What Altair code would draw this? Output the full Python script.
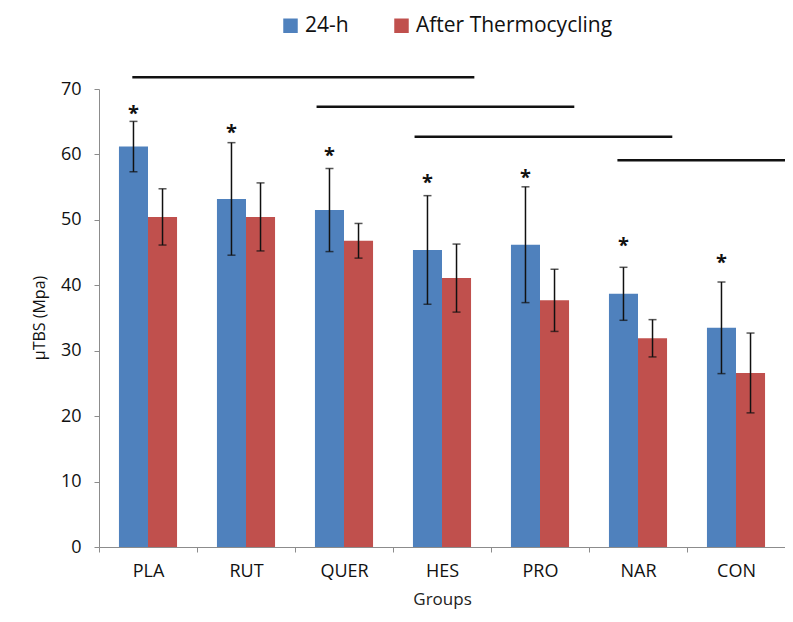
import altair as alt
import pandas as pd

groups = ["PLA", "RUT", "QUER", "HES", "PRO", "NAR", "CON"]
series = ["24-h", "After Thermocycling"]
mean_24h = [61.2, 53.2, 51.5, 45.4, 46.2, 38.7, 33.5]
sd_24h = [3.85, 8.6, 6.35, 8.3, 8.85, 4.05, 7.0]
mean_tc = [50.45, 50.45, 46.8, 41.1, 37.7, 31.9, 26.6]
sd_tc = [4.3, 5.2, 2.65, 5.2, 4.75, 2.85, 6.1]
star_y = [66.7, 63.7, 60.2, 56.1, 56.8, 46.4, 43.9]
sig_start = [0.34, 2.22, 3.22, 5.29]
sig_end = [3.83, 4.85, 5.85, 7.0]
sig_level = [71.8, 67.3, 62.7, 59.1]
y_title = ["µTBS (Mpa)"]

colors = ["#4F81BD", "#C0504D"]
FONT = "Open Sans"

rows = []
for i, g in enumerate(groups):
    for s, m, sd in ((series[0], mean_24h[i], sd_24h[i]), (series[1], mean_tc[i], sd_tc[i])):
        rows.append({"group": g, "series": s, "value": m, "low": m - sd, "high": m + sd})
df = pd.DataFrame(rows)
stars = pd.DataFrame({"group": groups, "series": [series[0]] * len(groups), "y": star_y, "t": ["*"] * len(groups)})
sig = pd.DataFrame({"start": sig_start, "end": sig_end, "level": sig_level})
ttl = pd.DataFrame({"t": y_title})

x_enc = alt.X("group:N", sort=groups, title="Groups",
              scale=alt.Scale(paddingInner=0, paddingOuter=0),
              axis=alt.Axis(labelAngle=0, tickBand="extent"))
xoff = alt.XOffset("series:N", sort=series, scale=alt.Scale(paddingInner=0, paddingOuter=0.687))
y_scale = alt.Scale(domain=[0, 70], nice=False)

bars = alt.Chart(df).mark_bar().encode(
    x=x_enc,
    xOffset=xoff,
    y=alt.Y("value:Q", scale=y_scale, title=None,
            axis=alt.Axis(values=list(range(0, 71, 10)))),
    color=alt.Color("series:N", sort=series, title=None,
                    scale=alt.Scale(domain=series, range=colors),
                    legend=alt.Legend(orient="none", legendX=181, legendY=-74,
                                      direction="horizontal", symbolType="square",
                                      symbolSize=210, symbolStrokeWidth=0, labelFontSize=21,
                                      labelFont=FONT, labelColor="#111", labelOffset=4,
                                      labelLimit=0, columnPadding=42, padding=0)),
)

gx = alt.X("group:N", sort=groups, title="Groups")
gxo = alt.XOffset("series:N", sort=series)

err = alt.Chart(df).mark_rule(color="#111", strokeWidth=1.5).encode(
    x=gx, xOffset=gxo, y=alt.Y("low:Q", scale=y_scale, title=None), y2="high:Q")
cap_lo = alt.Chart(df).mark_tick(color="#111", thickness=1.5, size=8).encode(
    x=gx, xOffset=gxo, y=alt.Y("low:Q", scale=y_scale, title=None))
cap_hi = alt.Chart(df).mark_tick(color="#111", thickness=1.5, size=8).encode(
    x=gx, xOffset=gxo, y=alt.Y("high:Q", scale=y_scale, title=None))

star = alt.Chart(stars).mark_text(fontSize=20, fontWeight="bold", font=FONT, color="#111",
                                  baseline="middle", dy=3).encode(
    x=gx, xOffset=gxo, y=alt.Y("y:Q", scale=y_scale, title=None), text="t:N")

main = alt.layer(bars, err, cap_lo, cap_hi, star)

lines = alt.Chart(sig).mark_rule(color="#111", strokeWidth=2.5).encode(
    x=alt.X("start:Q", scale=alt.Scale(domain=[0, 7], nice=False), axis=None),
    x2="end:Q",
    y=alt.Y("level:Q", scale=y_scale, title=None))

ytitle = alt.Chart(ttl).mark_text(angle=270, align="center", baseline="bottom",
                                  fontSize=16, font=FONT, color="#111").encode(
    x=alt.value(-51), y=alt.value(229), text="t:N")

chart = alt.layer(main, lines, ytitle).resolve_scale(
    x="independent"
).properties(
    width=686, height=458,
    autosize=alt.AutoSizeParams(type="none"),
    padding={"left": 91, "top": 81, "right": 0, "bottom": 63},
).configure_view(
    stroke=None
).configure_axisX(
    domainColor="#8c8c8c", tickColor="#8c8c8c", tickSize=5, labelPadding=10,
    titlePadding=11, labelFontSize=18, titleFontSize=17, labelColor="#111",
    titleColor="#222", labelFont=FONT, titleFont=FONT, titleFontWeight="normal",
    grid=False,
).configure_axisY(
    domainColor="#8c8c8c", tickColor="#8c8c8c", tickSize=5, labelPadding=13,
    labelFontSize=18, labelColor="#111", labelFont=FONT, grid=False,
)

chart.save("out.html", embed_options={"renderer": "svg", "actions": False})
